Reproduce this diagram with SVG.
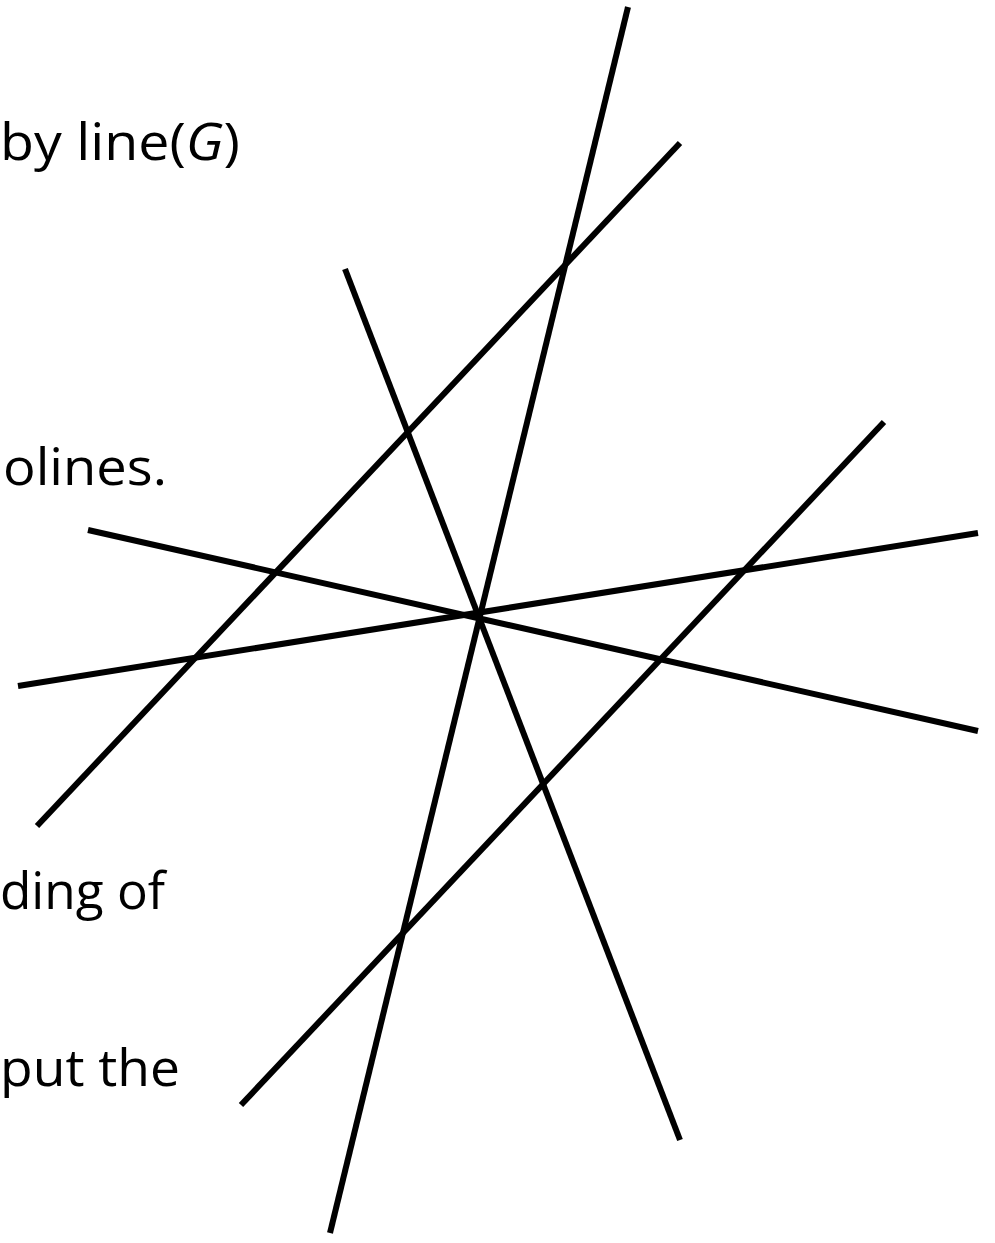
<svg xmlns="http://www.w3.org/2000/svg" width="995" height="1243" viewBox="0 0 995 1243">
<style>
.t{font-family:"Open Sans","Liberation Sans",sans-serif;font-size:52px;fill:#000}
.l{stroke:#000;stroke-width:6;fill:none;stroke-linecap:butt}
</style>
<rect width="995" height="1243" fill="#fff"/>
<g id="text">
<text class="t" x="0" y="160" textLength="240" lengthAdjust="spacingAndGlyphs">by line(<tspan font-style="italic">G</tspan>)</text>
<text class="t" x="3" y="485" textLength="164" lengthAdjust="spacingAndGlyphs">olines.</text>
<text class="t" x="0" y="909" textLength="165" lengthAdjust="spacingAndGlyphs">ding of</text>
<text class="t" x="0" y="1086" textLength="180" lengthAdjust="spacingAndGlyphs">put the</text>
</g>
<g id="connectors">
<line class="l" x1="628" y1="7" x2="330" y2="1233"/>
<line class="l" x1="680" y1="143" x2="37" y2="826"/>
<line class="l" x1="345" y1="269" x2="680" y2="1140"/>
<line class="l" x1="884" y1="422" x2="241" y2="1105"/>
<line class="l" x1="88" y1="530" x2="978" y2="731"/>
<line class="l" x1="18" y1="686" x2="978" y2="533"/>
</g>
</svg>
